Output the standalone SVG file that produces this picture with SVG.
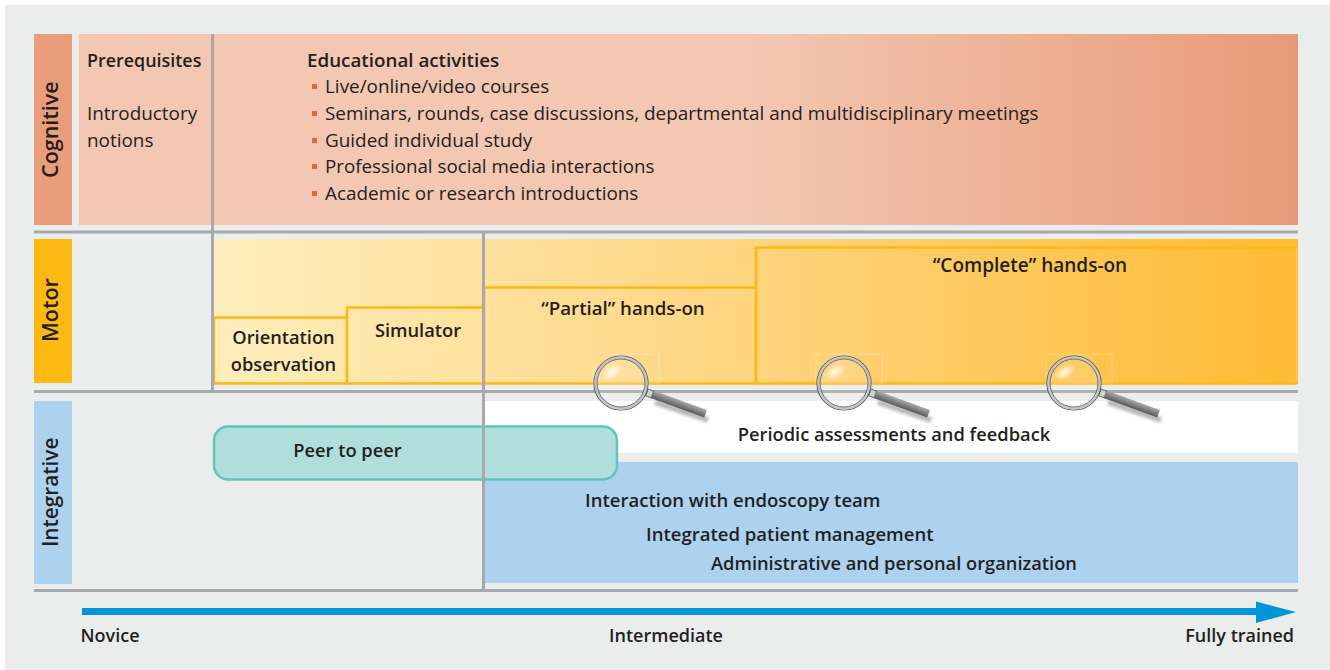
<svg xmlns="http://www.w3.org/2000/svg" width="1330" height="670" viewBox="0 0 1330 670">
<style>
text{font-family:"Open Sans","Noto Sans","Liberation Sans",sans-serif;fill:#231f20;font-size:18.9px}
.b{font-weight:600;font-size:18.3px}
.a{font-weight:600;font-size:21.5px}
.s{font-weight:600;font-size:18px}
.gl{stroke:#a7a9ac;stroke-width:3;fill:none}
.box{stroke:#fdb913;stroke-width:2.5}
.bul{fill:#e2683c}
</style>
<defs>
<linearGradient id="cog" x1="0" x2="1" y1="0" y2="0"><stop offset="0" stop-color="#f3c7b2"/><stop offset="0.55" stop-color="#f3c7b2"/><stop offset="1" stop-color="#e89a78"/></linearGradient>
<linearGradient id="mot" gradientUnits="userSpaceOnUse" x1="214" x2="1298" y1="0" y2="0"><stop offset="0" stop-color="#feeebd"/><stop offset="0.5" stop-color="#fed47e"/><stop offset="1" stop-color="#febb33"/></linearGradient>
<linearGradient id="handle" x1="0" x2="0" y1="0" y2="1"><stop offset="0" stop-color="#a8aaac"/><stop offset="1" stop-color="#58595b"/></linearGradient>
<radialGradient id="gl"><stop offset="0" stop-color="#fff" stop-opacity=".9"/><stop offset="1" stop-color="#fff" stop-opacity="0"/></radialGradient>
<filter id="soft" x="-30%" y="-100%" width="160%" height="300%"><feGaussianBlur stdDeviation="1.800"/></filter>
<g id="mag">
<rect x="-28" y="-29" width="66" height="29" fill="none" stroke="#fff" stroke-opacity=".25" stroke-width="1"/>
<path d="M34 19 L87 37" stroke="#000" stroke-opacity=".28" stroke-width="6" filter="url(#soft)"/>
<g transform="rotate(20)">
<rect x="33" y="-4" width="57" height="8" fill="url(#handle)"/>
<rect x="27.500" y="-3.500" width="6" height="7" fill="#d1d2d4" stroke="#6d6e71" stroke-width="1"/>
</g>
<circle r="27" fill="#fff" fill-opacity=".12" stroke="#58595b" stroke-width="1.200"/>
<circle r="25.500" fill="none" stroke="#c4c5c7" stroke-width="2.400"/>
<circle r="24" fill="none" stroke="#6d6e71" stroke-width="1"/>
<ellipse cx="-9" cy="-11" rx="12" ry="7" fill="url(#gl)" transform="rotate(-30 -9 -11)"/>
</g>
</defs>
<rect id="background" width="1330" height="670" fill="#fff"/>
<rect x="5" y="5" width="1325" height="665" fill="#ebedec"/>

<g id="cognitive">
<rect x="34" y="34" width="38" height="191" fill="#e99d7a"/>
<text transform="translate(58,178) rotate(-90)" class="a">Cognitive</text>
<rect x="79" y="34" width="1219" height="191" fill="url(#cog)"/>
<text x="87" y="67" class="b" style="font-size:17.900px">Prerequisites</text>
<text x="87" y="120">Introductory</text>
<text x="87" y="147">notions</text>
<text x="307" y="67" class="b" style="font-size:18.800px">Educational activities</text>
<rect class="bul" x="312" y="84" width="5" height="5"/><text x="325" y="93">Live/online/video courses</text>
<rect class="bul" x="312" y="111" width="5" height="5"/><text x="325" y="120">Seminars, rounds, case discussions, departmental and multidisciplinary meetings</text>
<rect class="bul" x="312" y="138" width="5" height="5"/><text x="325" y="147">Guided individual study</text>
<rect class="bul" x="312" y="164" width="5" height="5"/><text x="325" y="173" style="font-size:18.750px">Professional social media interactions</text>
<rect class="bul" x="312" y="191" width="5" height="5"/><text x="325" y="200">Academic or research introductions</text>
</g>

<g id="motor">
<rect x="34" y="239" width="38" height="144" fill="#fdb913"/>
<text transform="translate(58,342) rotate(-90)" class="a">Motor</text>
<rect x="214" y="239" width="1084" height="145" fill="url(#mot)"/>
</g>
<g id="orientation">
<rect class="box" x="214" y="317.500" width="133" height="66" fill="url(#mot)"/>
<text x="283.500" y="344" text-anchor="middle" class="b">Orientation</text>
<text x="283.500" y="371" text-anchor="middle" class="b">observation</text>
</g>
<g id="simulator">
<rect class="box" x="347" y="307.500" width="137" height="76" fill="url(#mot)"/>
<text x="418" y="337" text-anchor="middle" class="b">Simulator</text>
</g>
<g id="partial">
<rect class="box" x="484" y="287.500" width="272" height="96" fill="url(#mot)"/>
<text x="623" y="315" text-anchor="middle" class="b" style="font-size:18.700px">“Partial” hands-on</text>
</g>
<g id="complete">
<rect x="756" y="247.500" width="540.500" height="136" fill="url(#mot)" stroke="#ffc84f" stroke-width="1.500"/>
<path d="M1297 247.500H756V383.500H1297" fill="none" stroke="#fdb913" stroke-width="2.500"/>
<text x="1030" y="272" text-anchor="middle" class="b" style="font-size:19px">“Complete” hands-on</text>
</g>

<g id="integrative">
<rect x="34" y="401" width="38" height="183" fill="#acd2f0"/>
<text transform="translate(58,547) rotate(-90)" class="a" style="font-size:20.800px">Integrative</text>
</g>
<g id="assessments">
<rect x="484" y="401" width="814" height="52" fill="#fff"/>
<text x="894" y="441" text-anchor="middle" class="b">Periodic assessments and feedback</text>
</g>
<g id="team">
<rect x="484" y="462" width="814" height="121" fill="#acd2f0"/>
<text x="585" y="507" class="b" style="font-size:18.550px">Interaction with endoscopy team</text>
<text x="646" y="541" class="b" style="font-size:18.550px">Integrated patient management</text>
<text x="711" y="570" class="b">Administrative and personal organization</text>
</g>
<g id="peer">
<rect x="214" y="426.500" width="403" height="53" rx="14" fill="#b0dedb" stroke="#5fc5bd" stroke-width="2.500"/>
<text x="347.500" y="457" text-anchor="middle" class="b">Peer to peer</text>
</g>

<g id="connectors">
<path class="gl" d="M34 232H1298M34 391.500H1298M34 590.500H1298M212.500 34V390M483.500 232V590"/>
<rect x="82" y="608" width="1176" height="7" fill="#0095da"/>
<path d="M1256 601.500L1296 612L1256 623Z" fill="#0095da"/>
</g>

<g id="magnifiers">
<use href="#mag" x="621" y="383"/>
<use href="#mag" x="844" y="383"/>
<use href="#mag" x="1074" y="383"/>
</g>

<g id="scale">
<text x="80.500" y="642" class="s">Novice</text>
<text x="666" y="642" text-anchor="middle" class="s">Intermediate</text>
<text x="1294" y="642" text-anchor="end" class="s">Fully trained</text>
</g>
</svg>
